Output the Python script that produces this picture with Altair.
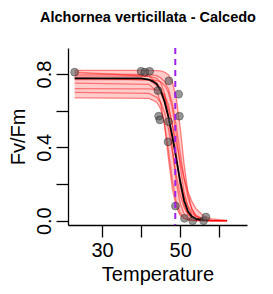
import altair as alt
import pandas as pd

title_text = "Alchornea verticillata - Calcedo"

# observed points
obs_temp = [23.0, 40.0, 41.0, 42.2, 47.1, 44.3, 49.6, 44.5, 44.8, 47.0, 49.8, 46.9, 48.8, 51.1, 53.2, 56.0, 56.6]
obs_fvfm = [0.81, 0.815, 0.81, 0.815, 0.763, 0.71, 0.69, 0.57, 0.55, 0.54, 0.57, 0.43, 0.08, 0.013, 0.0, 0.0, 0.02]

# fitted curve (black)
fit_temp = [23, 40, 42, 43, 44, 45, 46, 47, 48, 49, 50, 51, 52, 53, 54, 56]
fit_fvfm = [0.776, 0.776, 0.770, 0.760, 0.745, 0.71, 0.65, 0.565, 0.46, 0.34, 0.215, 0.11, 0.05, 0.022, 0.01, 0.003]

# bootstrap curves (red)
boot_temp = [23, 42, 44, 45, 46, 47, 48, 49, 50, 51, 52, 53, 54, 56, 58, 62]
boot_1 = [0.82, 0.82, 0.819, 0.817, 0.811, 0.796, 0.758, 0.671, 0.510, 0.310, 0.149, 0.062, 0.024, 0.003, 0.0005, 0.0]
boot_2 = [0.80, 0.798, 0.791, 0.780, 0.759, 0.717, 0.639, 0.519, 0.370, 0.228, 0.125, 0.063, 0.030, 0.007, 0.0015, 0.0]
boot_3 = [0.78, 0.767, 0.736, 0.701, 0.644, 0.561, 0.450, 0.330, 0.219, 0.136, 0.079, 0.044, 0.024, 0.007, 0.002, 0.0]
boot_4 = [0.75, 0.744, 0.707, 0.644, 0.518, 0.338, 0.173, 0.075, 0.029, 0.011, 0.004, 0.0015, 0.0005, 0.0, 0.0, 0.0]
boot_5 = [0.72, 0.719, 0.715, 0.707, 0.686, 0.634, 0.526, 0.360, 0.194, 0.086, 0.034, 0.013, 0.005, 0.0006, 0.0, 0.0]
boot_6 = [0.70, 0.694, 0.673, 0.645, 0.591, 0.501, 0.377, 0.246, 0.141, 0.073, 0.036, 0.017, 0.008, 0.002, 0.0004, 0.0]
boot_7 = [0.67, 0.667, 0.646, 0.609, 0.527, 0.385, 0.222, 0.103, 0.042, 0.016, 0.006, 0.002, 0.001, 0.0, 0.0, 0.0]
boot_8 = [0.81, 0.788, 0.754, 0.722, 0.674, 0.608, 0.523, 0.425, 0.325, 0.234, 0.160, 0.105, 0.067, 0.026, 0.010, 0.001]
boot_9 = [0.79, 0.788, 0.776, 0.753, 0.696, 0.577, 0.395, 0.213, 0.094, 0.037, 0.014, 0.005, 0.002, 0.0, 0.0, 0.0]
boot_10 = [0.77, 0.769, 0.765, 0.758, 0.739, 0.698, 0.613, 0.470, 0.300, 0.157, 0.072, 0.031, 0.012, 0.002, 0.0, 0.0]
boots = [boot_1, boot_2, boot_3, boot_4, boot_5, boot_6, boot_7, boot_8, boot_9, boot_10]

t50 = 48.75

x_ticks = [30, 40, 50, 60]
y_ticks = [0.0, 0.2, 0.4, 0.6, 0.8]

obs_df = pd.DataFrame({"Temperature": obs_temp, "FvFm": obs_fvfm})
fit_df = pd.DataFrame({"Temperature": fit_temp, "FvFm": fit_fvfm})
rows = []
for i, b in enumerate(boots):
    for t, v in zip(boot_temp, b):
        rows.append({"Temperature": t, "FvFm": v, "run": i})
boot_df = pd.DataFrame(rows)
band_df = boot_df.groupby("Temperature")["FvFm"].agg(["min", "max"]).reset_index()
vline_df = pd.DataFrame({"Temperature": [t50]})

xscale = alt.Scale(domain=[21.3, 67.1], nice=False, zero=False)
yscale = alt.Scale(domain=[-0.0235, 0.942], nice=False, zero=False)

xaxis = alt.Axis(values=x_ticks, labelExpr="datum.value == 30 || datum.value == 50 ? datum.label : ''",
                 title="Temperature", grid=False)
yaxis = alt.Axis(values=y_ticks, format=".1f",
                 labelExpr="datum.value == 0 || abs(datum.value - 0.4) < 0.01 || abs(datum.value - 0.8) < 0.01 ? datum.label : ''",
                 title="Fv/Fm", grid=False, labelAngle=270)

base_x = alt.X("Temperature:Q", scale=xscale, axis=xaxis)
base_y = alt.Y("FvFm:Q", scale=yscale, axis=yaxis)

band = alt.Chart(band_df).mark_area(color="#FF0000", opacity=0.2).encode(
    x=base_x, y=alt.Y("min:Q", scale=yscale, axis=yaxis), y2="max:Q")

boot_lines = alt.Chart(boot_df).mark_line(color="#FF0000", opacity=0.45, strokeWidth=1.3).encode(
    x=base_x, y=base_y, detail="run:N")

fit_line = alt.Chart(fit_df).mark_line(color="black", strokeWidth=1.8).encode(x=base_x, y=base_y)

pts = alt.Chart(obs_df).mark_point(filled=True, size=60, color="#555555", opacity=0.6,
                                   stroke="#222222", strokeWidth=1).encode(x=base_x, y=base_y)

vline = alt.Chart(vline_df).mark_rule(color="#A020F0", strokeWidth=2, strokeDash=[6, 5]).encode(x=base_x)

chart = alt.layer(band, boot_lines, fit_line, pts, vline).properties(
    width=179, height=177,
    title=alt.TitleParams(title_text, fontSize=14.5, fontWeight="bold", font="Liberation Sans",
                          anchor="start", frame="group", color="black", offset=22, dx=-28),
    autosize=alt.AutoSizeParams(type="none"),
    padding={"left": 60, "top": 40, "right": 18, "bottom": 60},
).configure_view(stroke=None).configure_axis(
    domainColor="black", domainWidth=1.3, tickColor="black", tickWidth=1.3, tickSize=12,
    labelFont="Liberation Sans", labelFontSize=20, labelColor="black",
    titleFont="Liberation Sans", titleFontSize=20, titleFontWeight="normal", titleColor="black",
).configure_axisX(labelPadding=3, titlePadding=4).configure_axisY(labelPadding=2, titlePadding=6)

chart.save("out.html", embed_options={"renderer": "svg", "actions": False})
